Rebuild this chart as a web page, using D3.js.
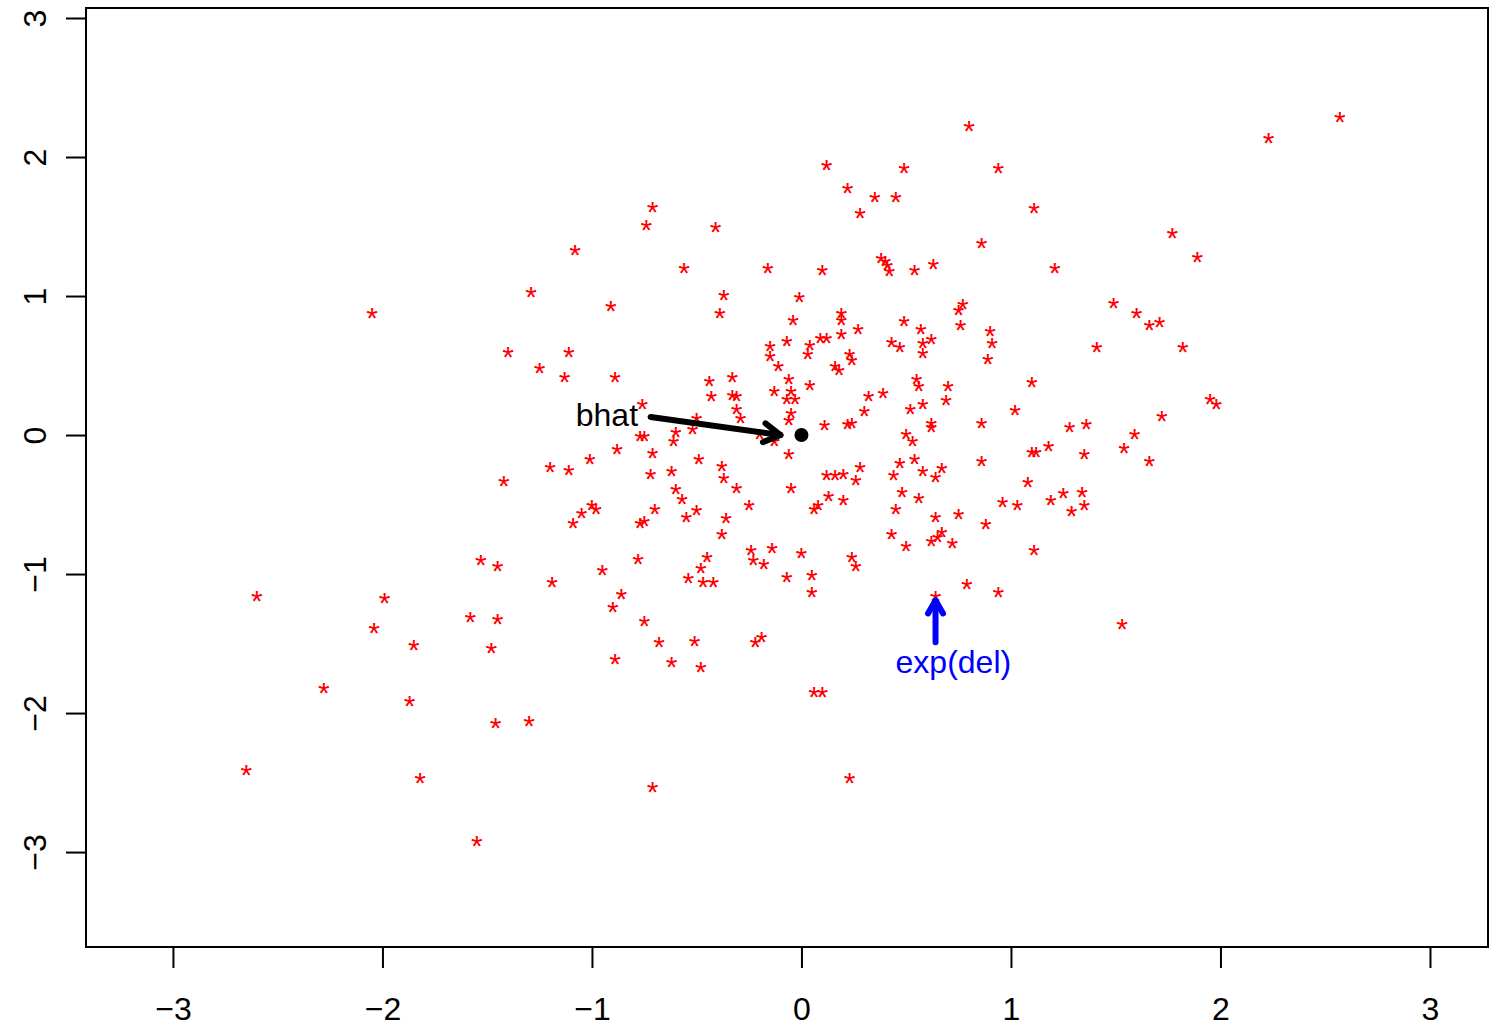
<!DOCTYPE html>
<html>
	<head>
		<meta charset="utf-8">
		<title>bhat scatter</title>
		<style>
			body { margin: 0; background: #fff; }
			text { font-family: "Liberation Sans", Arial, Helvetica, sans-serif; }
		</style>
	</head>
	<body>
		<script src="https://cdn.jsdelivr.net/npm/d3@7"></script>
		<script>
			// simulated draws
			var xs = [
				2.57,0.80,2.23,0.12,0.49,0.94,0.22,0.35,0.45,0.28,
				1.11,-0.71,-0.74,-0.41,-1.08,1.77,0.86,1.89,0.38,0.40,
				0.41,0.42,0.54,0.63,0.10,-0.16,-0.56,1.21,-1.29,-0.37,
				-0.01,-0.39,-0.91,-2.05,1.49,0.75,0.77,-0.04,0.19,0.19,
				0.49,0.76,1.60,1.66,1.71,0.27,0.57,0.90,0.19,-0.07,
				0.09,0.12,0.43,0.58,0.62,0.91,-0.15,0.04,0.47,1.41,
				1.82,-1.40,-1.11,-0.15,0.03,0.23,0.24,0.58,0.89,-0.11,
				0.16,0.18,-1.25,-1.13,-0.89,-0.33,-0.44,-0.06,0.55,0.56,
				1.10,0.04,-0.13,-0.05,0.39,0.70,0.32,-0.43,-0.33,-0.31,
				-0.07,-0.03,1.95,1.98,0.69,-0.76,-0.31,0.30,0.52,0.58,
				1.02,1.72,-0.29,-0.05,-0.06,-0.50,0.11,0.22,0.24,0.62,
				0.62,0.86,1.28,1.36,-0.52,-0.60,-0.61,-0.20,-0.77,-0.75,
				0.50,0.53,1.59,-0.13,1.54,1.18,1.10,1.12,1.35,1.66,
				-0.88,-0.71,-0.06,-0.49,-1.01,0.47,0.54,0.86,0.28,-0.38,
				-0.37,-1.20,-1.11,-0.72,-0.62,0.58,0.67,0.64,0.44,0.12,
				0.16,0.20,0.26,-1.42,-0.31,-0.05,-0.60,1.08,0.48,0.56,
				0.96,1.03,1.19,1.25,1.34,1.35,1.29,0.13,0.20,0.06,
				0.08,-0.57,-0.25,0.45,0.64,0.75,-0.50,-0.55,-1.00,-0.98,
				-1.05,-1.09,-0.70,-0.77,-0.75,-0.36,0.88,0.43,0.62,0.65,
				0.67,0.72,0.50,-0.38,1.11,-0.24,-0.23,-0.14,-0.18,0.00,
				0.24,0.26,-0.45,-0.48,-0.54,-0.47,-0.42,-0.78,-0.95,-1.19,
				-0.07,0.05,0.05,-0.86,-0.90,-0.75,0.79,0.94,0.64,1.53,
				-0.68,-0.51,-0.89,-0.62,-0.48,-0.22,-0.19,0.06,0.10,0.23,
				-0.71,-1.30,-1.53,-1.45,-2.60,-1.99,-2.04,-1.58,-1.45,-1.85,
				-1.48,-2.28,-1.87,-1.46,-2.65,-1.82,-1.55
			];
			var ys = [
				2.29,2.22,2.14,1.94,1.92,1.92,1.78,1.71,1.71,1.60,
				1.63,1.64,1.51,1.50,1.33,1.45,1.38,1.28,1.27,1.25,
				1.22,1.18,1.19,1.23,1.19,1.20,1.20,1.20,1.03,1.01,
				0.99,0.88,0.93,0.88,0.95,0.90,0.94,0.83,0.88,0.83,
				0.82,0.79,0.88,0.79,0.81,0.76,0.76,0.75,0.73,0.68,
				0.70,0.70,0.67,0.66,0.69,0.66,0.64,0.65,0.63,0.63,
				0.63,0.60,0.60,0.57,0.58,0.58,0.54,0.59,0.55,0.50,
				0.50,0.47,0.48,0.42,0.42,0.42,0.39,0.40,0.40,0.35,
				0.38,0.36,0.32,0.32,0.30,0.35,0.28,0.28,0.29,0.28,
				0.26,0.26,0.26,0.22,0.25,0.22,0.19,0.17,0.19,0.22,
				0.18,0.14,0.12,0.16,0.11,0.12,0.07,0.08,0.09,0.09,
				0.06,0.09,0.06,0.08,0.04,0.02,-0.04,0.01,-0.01,-0.01,
				0.01,-0.04,0.01,-0.04,-0.09,-0.08,-0.12,-0.12,-0.14,-0.19,
				-0.10,-0.13,-0.14,-0.17,-0.17,-0.20,-0.17,-0.19,-0.23,-0.22,
				-0.31,-0.23,-0.25,-0.28,-0.26,-0.26,-0.24,-0.30,-0.29,-0.29,
				-0.29,-0.28,-0.32,-0.33,-0.38,-0.38,-0.39,-0.34,-0.41,-0.45,
				-0.48,-0.50,-0.47,-0.42,-0.41,-0.50,-0.55,-0.44,-0.47,-0.53,
				-0.50,-0.46,-0.50,-0.53,-0.59,-0.57,-0.54,-0.59,-0.50,-0.53,
				-0.56,-0.63,-0.53,-0.63,-0.62,-0.60,-0.64,-0.71,-0.76,-0.73,
				-0.70,-0.78,-0.80,-0.71,-0.83,-0.83,-0.90,-0.81,-0.93,-0.85,
				-0.88,-0.94,-0.88,-0.96,-1.03,-1.06,-1.06,-0.89,-0.97,-1.06,
				-1.02,-1.01,-1.13,-1.14,-1.24,-1.34,-1.07,-1.13,-1.16,-1.36,
				-1.49,-1.48,-1.61,-1.63,-1.67,-1.49,-1.45,-1.85,-1.85,-2.47,
				-2.53,-2.06,-0.90,-0.94,-1.16,-1.17,-1.39,-1.31,-1.32,-1.51,
				-1.53,-1.82,-1.91,-2.07,-2.41,-2.47,-2.92
			];
			var ticks = [-3, -2, -1, 0, 1, 2, 3];

			// annotations
			var bhat = [0, 0];
			var bhatArrow = [[-0.72, 0.13], [-0.10, 0.0]];
			var bhatText = [-0.78, 0.145];
			var delArrow = [[0.64, -1.49], [0.64, -1.19]];
			var delText = [0.725, -1.63];

			var width = 1490;
			var height = 1027;
			var fontSize = 30;
			var labelSize = 32;

			var svg = d3.select('body').append('svg')
						.attr('width', width)
						.attr('height', height);

			var x = d3.scaleLinear().domain([-3.415, 3.277]).range([86, 1488]);
			var y = d3.scaleLinear().domain([-3.683, 3.072]).range([947, 8]);
			var fmt = d3.format('d');

			// axes
			var xAxis = svg.append('g')
				.attr('transform', 'translate(0,947)')
				.call(d3.axisBottom(x).tickValues(ticks).tickFormat(fmt)
					.tickSize(21).tickSizeOuter(0).tickPadding(29));
			var yAxis = svg.append('g')
				.attr('transform', 'translate(86,0)')
				.call(d3.axisLeft(y).tickValues(ticks).tickFormat(fmt)
					.tickSize(20).tickSizeOuter(0));

			svg.selectAll('.domain').remove();
			svg.selectAll('.tick line').attr('stroke', '#000').attr('stroke-width', 2);
			svg.selectAll('.tick text')
				.attr('fill', '#000')
				.style('font-size', labelSize + 'px')
				.style('font-family', '"Liberation Sans", Arial, Helvetica, sans-serif');

			yAxis.selectAll('.tick text')
				.attr('x', null)
				.attr('dy', null)
				.attr('text-anchor', 'middle')
				.attr('transform', 'translate(-40,0) rotate(-90)');

			// box
			svg.append('rect')
				.attr('x', 86).attr('y', 8)
				.attr('width', 1402).attr('height', 939)
				.attr('fill', 'none')
				.attr('stroke', '#000')
				.attr('stroke-width', 2);

			// points, pch = "*"
			svg.append('g').selectAll('text')
				.data(d3.zip(xs, ys))
				.join('text')
				.attr('x', function(d) { return x(d[0]); })
				.attr('y', function(d) { return y(d[1]); })
				.attr('dy', '0.5em')
				.attr('text-anchor', 'middle')
				.style('font-size', fontSize + 'px')
				.attr('fill', '#ff0000')
				.text('*');

			function arrow(a, col, lw, len) {
				var x0 = x(a[0][0]), y0 = y(a[0][1]), x1 = x(a[1][0]), y1 = y(a[1][1]);
				var ang = Math.atan2(y1 - y0, x1 - x0);
				var h1 = [x1 - len * Math.cos(ang - Math.PI / 6), y1 - len * Math.sin(ang - Math.PI / 6)];
				var h2 = [x1 - len * Math.cos(ang + Math.PI / 6), y1 - len * Math.sin(ang + Math.PI / 6)];
				var g = svg.append('g')
					.attr('stroke', col)
					.attr('stroke-width', lw)
					.attr('stroke-linecap', 'round')
					.attr('stroke-linejoin', 'round')
					.attr('fill', 'none');
				g.append('line').attr('x1', x0).attr('y1', y0).attr('x2', x1).attr('y2', y1);
				g.append('path').attr('d', 'M' + h1 + 'L' + x1 + ',' + y1 + 'L' + h2);
			}

			arrow(bhatArrow, '#000', 6, 19);
			arrow(delArrow, '#0000ff', 6, 15);

			svg.append('circle')
				.attr('cx', x(bhat[0])).attr('cy', y(bhat[1]))
				.attr('r', 7)
				.attr('fill', '#000');

			svg.append('text')
				.attr('x', x(bhatText[0])).attr('y', y(bhatText[1]))
				.attr('dy', '0.35em')
				.attr('text-anchor', 'end')
				.style('font-size', labelSize + 'px')
				.attr('fill', '#000')
				.text('bhat');

			svg.append('text')
				.attr('x', x(delText[0])).attr('y', y(delText[1]))
				.attr('dy', '0.35em')
				.attr('text-anchor', 'middle')
				.style('font-size', labelSize + 'px')
				.attr('fill', '#0000ff')
				.text('exp(del)');
		</script>
	</body>
</html>
